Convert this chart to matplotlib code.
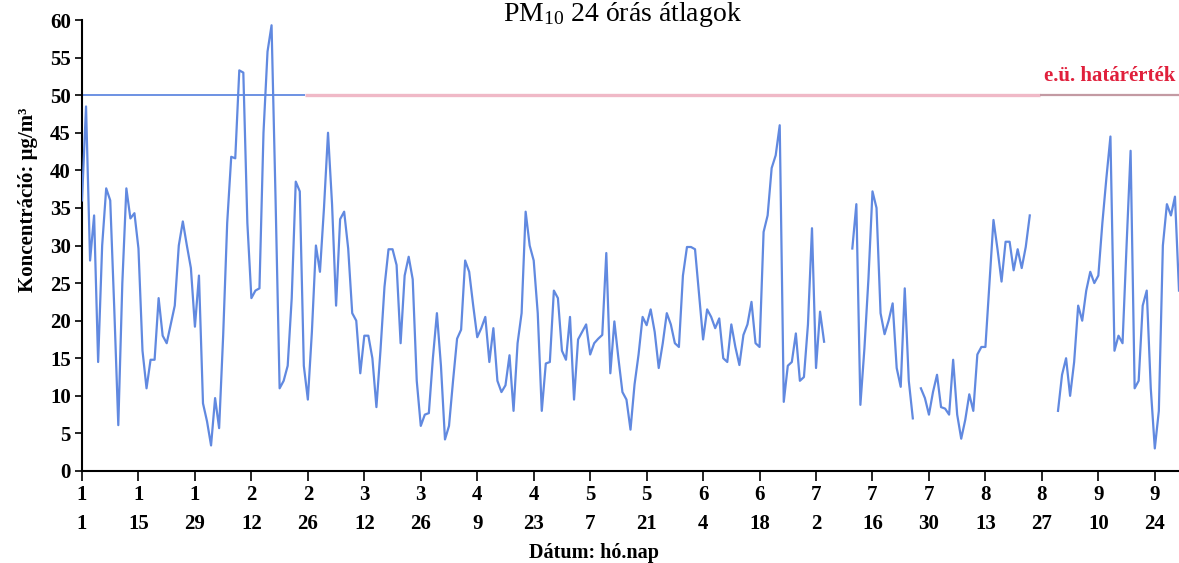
import matplotlib
matplotlib.use("Agg")
import matplotlib.pyplot as plt
import numpy as np

plt.rcParams['font.family'] = ['Liberation Serif', 'DejaVu Serif']
plt.rcParams['mathtext.fontset'] = 'custom'
plt.rcParams['mathtext.rm'] = 'Liberation Serif'
plt.rcParams['mathtext.it'] = 'Liberation Serif:italic'
plt.rcParams['mathtext.bf'] = 'Liberation Serif:bold'

nan = np.nan

# PM10 24-hour averages (ug/m3), one value per day, nan = missing day
jan = [36, 48.5, 28, 34, 14.5, 30, 37.6, 36, 21.6, 6.1, 25, 37.6, 33.6, 34.3, 29.6,
       16, 11, 14.8, 14.8, 23, 18, 17, 19.5, 22, 30, 33.2, 30, 27, 19.2, 26, 9]
feb = [6.6, 3.4, 9.7, 5.7, 18, 33, 41.8, 41.6, 53.3, 53, 33, 23, 24, 24.3, 45,
       55.8, 59.3, 36, 11, 12, 14, 23, 38.5, 37.2, 14, 9.5, 18.5, 30]
mar = [26.5, 35, 45, 35.5, 22, 33.5, 34.5, 29.6, 21, 20, 13, 18, 18, 15, 8.5, 16,
       24.5, 29.5, 29.5, 27.4, 17, 26, 28.5, 25.5, 12, 6, 7.5, 7.7, 15, 21, 14]
apr = [4.2, 6, 12, 17.6, 18.8, 28, 26.5, 22, 17.8, 19, 20.5, 14.5, 19, 12, 10.5,
       11.4, 15.4, 8, 17, 21, 34.5, 30, 28, 21, 8, 14.3, 14.5, 24, 23, 16]
may = [14.8, 20.5, 9.5, 17.5, 18.5, 19.5, 15.5, 17, 17.6, 18.1, 29, 13, 19.9, 15,
       10.5, 9.5, 5.5, 11.5, 15.5, 20.5, 19.4, 21.5, 18.5, 13.7, 17, 21, 19.5, 17,
       16.5, 26, 29.8]
jun = [29.8, 29.5, 23.5, 17.5, 21.5, 20.5, 19, 20.3, 15, 14.5, 19.5, 16.5, 14.1,
       18.1, 19.5, 22.5, 17, 16.5, 31.8, 34, 40.3, 42, 46, 9.2, 14, 14.5, 18.3, 12,
       12.5, 19.5]
jul = [32.3, 13.7, 21.2, 17.2, nan, nan, nan, nan, nan, nan, 29.6, 35.5, 8.8, 16.3,
       25.6, 37.2, 35, 21, 18.2, 20, 22.3, 13.7, 11.2, 24.3, 12, 7, nan, 11, 9.7,
       7.5, 10.5]
aug = [12.8, 8.5, 8.3, 7.5, 14.8, 7.5, 4.3, 6.8, 10.2, 8, 15.5, 16.5, 16.5, 25,
       33.4, 29.5, 25.2, 30.5, 30.5, 26.7, 29.5, 27, 29.8, 34, nan, nan, nan, nan,
       nan, nan, 8]
sep = [12.8, 15, 10, 14.5, 22, 20, 24, 26.5, 25, 26, 33, 39, 44.5, 16, 18, 17, 30,
       42.6, 11, 12, 22, 24, 11, 3, 8, 30, 35.5, 34, 36.5, 24]

limit = 50  # health limit value
limit_label = "e.ü. határérték"

tick_months = [1, 1, 1, 2, 2, 3, 3, 4, 4, 5, 5, 6, 6, 7, 7, 7, 8, 8, 9, 9]
tick_dom = [1, 15, 29, 12, 26, 12, 26, 9, 23, 7, 21, 4, 18, 2, 16, 30, 13, 27, 10, 24]

values = np.array(jan + feb + mar + apr + may + jun + jul + aug + sep, dtype=float)
days = np.arange(len(values))

W, H = 1179, 563
fig = plt.figure(figsize=(W / 100, H / 100), dpi=100)
ax = fig.add_axes([82 / W, 1 - 471 / H, 1 - 82 / W, 451 / H])

blue = '#6189e0'

# limit line, drawn in three pieces
ax.hlines(limit, 0, 55.3, color=blue, lw=1.3, zorder=2)
ax.hlines(limit, 55.3, 237.5, color='#f0b9c7', lw=2.4, zorder=2)
ax.hlines(limit, 237.5, 272, color='#c39aa3', lw=1.6, zorder=2)
ax.text(238.5, 52.6, limit_label, color='#e0203c', fontsize=15,
        fontweight='bold', ha='left', va='center')

ax.plot(days, values, color=blue, lw=1.6, zorder=3)

ax.set_xlim(0, 272)
ax.set_ylim(0, 60)
ax.set_yticks(np.arange(0, 61, 5))
ax.set_yticklabels([str(v) for v in range(0, 61, 5)], fontweight='bold')
tick_pos = days[::14][:len(tick_dom)]
ax.set_xticks(tick_pos)
ax.set_xticklabels([f"{m}\n{d}" for m, d in zip(tick_months, tick_dom)],
                   fontweight='bold', linespacing=1.6)

for side in ['top', 'right']:
    ax.spines[side].set_visible(False)
ax.spines['left'].set_linewidth(1.5)
ax.spines['bottom'].set_linewidth(1.5)
ax.tick_params(axis='y', direction='out', length=5, width=1.2, labelsize=15, pad=3)
ax.tick_params(axis='x', direction='out', length=7, width=1.2, labelsize=15, pad=3)

fig.text(28 / W, 1 - 200 / H, "Koncentráció: μg/m³", fontsize=15,
         fontweight='bold', rotation=90, ha='center', va='center')
fig.text(594 / W, 1 - 553 / H, "Dátum: hó.nap", fontsize=14.5,
         fontweight='bold', ha='center', va='center')
fig.text(622 / W, 1 - 21 / H, r"PM$_{10}$ 24 órás átlagok", fontsize=20,
         ha='center', va='baseline')

fig.savefig("out.png", dpi=100)
